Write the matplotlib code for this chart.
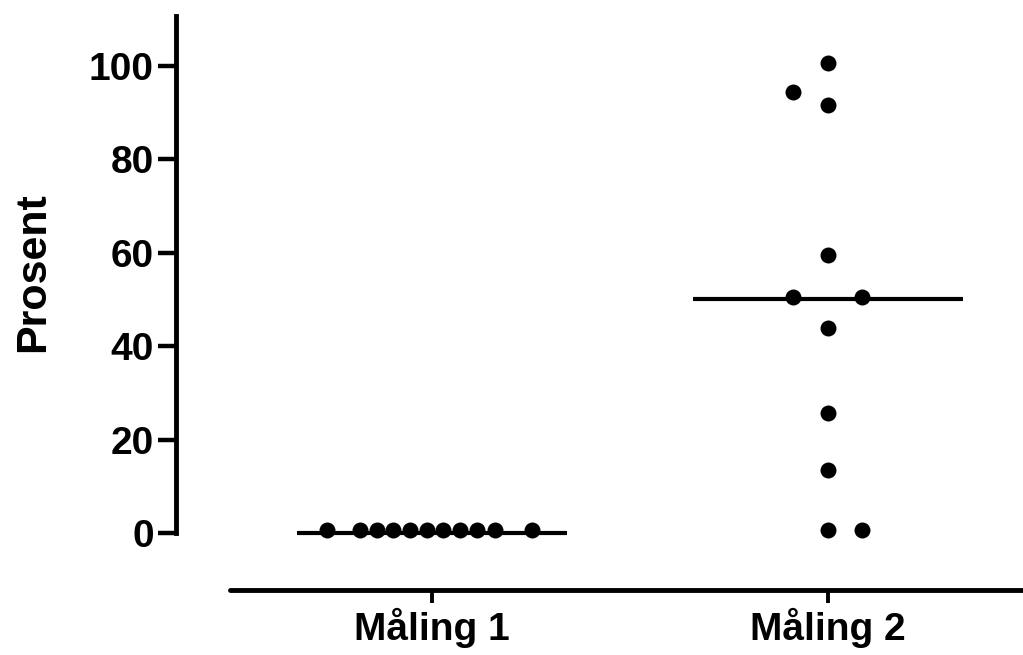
import matplotlib
matplotlib.use("Agg")
import matplotlib.pyplot as plt
import numpy as np

categories = ["Måling 1", "Måling 2"]
maling1 = [0.6, 0.6, 0.6, 0.6, 0.6, 0.6, 0.6, 0.6, 0.6, 0.6, 0.6]
maling2 = [100.6, 94.5, 91.6, 59.5, 50.6, 50.6, 43.9, 25.7, 13.5, 0.6, 0.6]
medians = [0, 50]
yticks = [0, 20, 40, 60, 80, 100]

# layout: horizontal offsets of dots (swarm arrangement)
off1 = [-0.265, -0.182, -0.139, -0.098, -0.056, -0.013, 0.028, 0.071, 0.114, 0.159, 0.253]
off2 = [0, -0.088, 0, 0, -0.088, 0.086, 0, 0, 0, 0, 0.086]

plt.rcParams['font.family'] = ['Liberation Sans', 'DejaVu Sans']
plt.rcParams['font.weight'] = 'bold'

fig = plt.figure(figsize=(10.23, 6.55), dpi=100)
ax = fig.add_axes([176/1023, 65/655, 1 - 176/1023, (590-16)/655])

xs = np.arange(len(categories))
for i, (vals, offs) in enumerate([(maling1, off1), (maling2, off2)]):
    ax.plot(xs[i] + np.array(offs), vals, 'o', color='black', ms=11.5, mew=0, zorder=3)
    ax.plot([xs[i] - 0.34, xs[i] + 0.34], [medians[i], medians[i]], color='black', lw=3, solid_capstyle='butt', zorder=2)

ax.set_xlim(-0.646, 1.492)
ax.set_ylim(-12.2, 110.7)
ax.spines['top'].set_visible(False)
ax.spines['right'].set_visible(False)
ax.spines['left'].set_linewidth(3.5)
ax.spines['bottom'].set_linewidth(3.5)
ax.spines['left'].set_bounds(0, 110.7)
ax.spines['bottom'].set_bounds(-0.51, 1.492)
ax.spines['bottom'].set_capstyle('round')

ax.set_yticks(yticks)
ax.set_yticklabels([str(t) for t in yticks])
ax.set_xticks(xs)
ax.set_xticklabels(categories)
ax.tick_params(axis='y', length=13, width=3.2, labelsize=28, pad=3)
ax.tick_params(axis='x', length=9, width=2.8, labelsize=28, pad=4)
for lab in ax.get_xticklabels() + ax.get_yticklabels():
    lab.set_fontweight('bold')

fig.text(33/1023, 1 - 272/655, "Prosent", rotation=90, ha='center', va='center',
         fontsize=31, fontweight='bold')

fig.savefig("out.png", dpi=100)
